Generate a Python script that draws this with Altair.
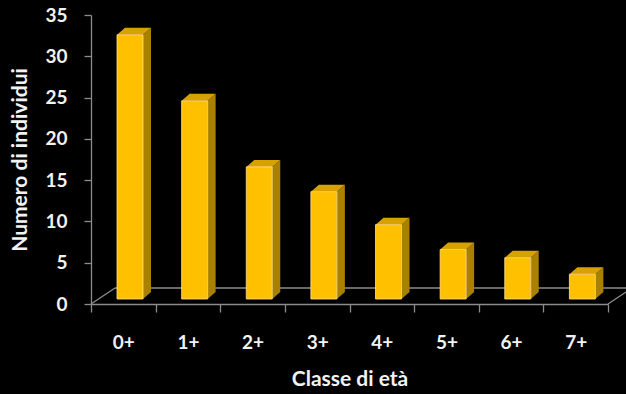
import altair as alt
import pandas as pd

# Age classes and number of individuals in each
classes = ["0+", "1+", "2+", "3+", "4+", "5+", "6+", "7+"]
counts = [32, 24, 16, 13, 9, 6, 5, 3]

# Plot geometry (pixels) and 3-D styling
PLOT_W, PLOT_H = 517, 289
Y_MAX = 35
PX_X = len(classes) / PLOT_W          # data units per pixel, x
PX_Y = Y_MAX / PLOT_H                 # data units per pixel, y

BAR_LEFT = 26 * PX_X                  # front face offset inside its band
BAR_W = 26 * PX_X                     # front face width
BAR_BASE = 5 * PX_Y                   # bars stand a little back on the floor
DEPTH_X, DEPTH_Y = 8 * PX_X, 7 * PX_Y           # bar depth
FLOOR_X, FLOOR_Y = 24 * PX_X, 16 * PX_Y         # floor depth

FRONT = "#FFC000"
SIDE = "#A98000"
TOP = "#D7A200"
EDGE = "#FFE38C"
AXIS_GREY = "#8C8C8C"
TEXT = "#F2F2F2"
FONT = "Lato"

# Front faces
front = pd.DataFrame({
    "cls": classes,
    "x": [i + BAR_LEFT for i in range(len(classes))],
    "x2": [i + BAR_LEFT + BAR_W for i in range(len(classes))],
    "y": [BAR_BASE] * len(classes),
    "y2": [BAR_BASE + v for v in counts],
})

# Side faces: parallelograms drawn as two-point areas
side_rows = []
for i, (c, v) in enumerate(zip(classes, counts)):
    xr = i + BAR_LEFT + BAR_W
    side_rows.append({"cls": c, "x": xr, "lo": BAR_BASE, "hi": BAR_BASE + v})
    side_rows.append({"cls": c, "x": xr + DEPTH_X, "lo": BAR_BASE + DEPTH_Y,
                      "hi": BAR_BASE + v + DEPTH_Y})
side = pd.DataFrame(side_rows)

# Top faces: parallelograms drawn as four-point areas
top_rows = []
for i, (c, v) in enumerate(zip(classes, counts)):
    xl = i + BAR_LEFT
    t = BAR_BASE + v
    top_rows += [
        {"cls": c, "x": xl, "lo": t, "hi": t},
        {"cls": c, "x": xl + DEPTH_X, "lo": t, "hi": t + DEPTH_Y},
        {"cls": c, "x": xl + BAR_W, "lo": t, "hi": t + DEPTH_Y},
        {"cls": c, "x": xl + BAR_W + DEPTH_X, "lo": t + DEPTH_Y, "hi": t + DEPTH_Y},
    ]
top = pd.DataFrame(top_rows)

# Floor outline: back edge and the two receding sides
n = len(classes)
floor = pd.DataFrame({
    "x": [FLOOR_X, 0, n],
    "x2": [n + FLOOR_X, FLOOR_X, n + FLOOR_X],
    "y": [FLOOR_Y, 0, 0],
    "y2": [FLOOR_Y, FLOOR_Y, FLOOR_Y],
})

xq = alt.Scale(domain=[0, n], nice=False, zero=False)
yq = alt.Scale(domain=[0, Y_MAX], nice=False)

# Band layer that carries the category axis
axis_layer = alt.Chart(pd.DataFrame({"cls": classes})).mark_bar(opacity=0).encode(
    x=alt.X("cls:N", sort=classes,
            scale=alt.Scale(paddingInner=0, paddingOuter=0),
            axis=alt.Axis(
                title="Classe di età", tickBand="extent", tickSize=8,
                tickColor=AXIS_GREY, tickWidth=1.3,
                domainColor=AXIS_GREY, domainWidth=1.3,
                labelAngle=0, labelColor=TEXT, labelFont=FONT,
                labelFontSize=19, labelFontWeight="bold", labelPadding=21,
                titleColor=TEXT, titleFont=FONT, titleFontSize=21,
                titleFontWeight="bold", titlePadding=16,
            )),
)

floor_layer = alt.Chart(floor).mark_rule(color=AXIS_GREY, strokeWidth=1.3).encode(
    x=alt.X("x:Q", scale=xq, axis=None),
    x2="x2:Q",
    y=alt.Y("y:Q", scale=yq),
    y2="y2:Q",
)

side_layer = alt.Chart(side).mark_area(color=SIDE, orient="vertical",
                                       interpolate="linear").encode(
    x=alt.X("x:Q", scale=xq, axis=None),
    y=alt.Y("lo:Q", scale=yq, stack=None),
    y2="hi:Q",
    detail="cls:N",
)

top_layer = alt.Chart(top).mark_area(color=TOP, orient="vertical",
                                     interpolate="linear").encode(
    x=alt.X("x:Q", scale=xq, axis=None),
    y=alt.Y("lo:Q", scale=yq, stack=None),
    y2="hi:Q",
    detail="cls:N",
)

front_layer = alt.Chart(front).mark_rect(color=FRONT, stroke=EDGE,
                                         strokeWidth=0.8).encode(
    x=alt.X("x:Q", scale=xq, axis=None),
    x2="x2:Q",
    y=alt.Y("y:Q", scale=yq,
            axis=alt.Axis(
                title="Numero di individui", values=list(range(0, 36, 5)),
                grid=False, tickSize=7, tickColor=AXIS_GREY, tickWidth=1.3,
                domainColor=AXIS_GREY, domainWidth=1.3,
                labelColor=TEXT, labelFont=FONT, labelFontSize=19,
                labelFontWeight="bold", labelPadding=17,
                titleColor=TEXT, titleFont=FONT, titleFontSize=21,
                titleFontWeight="bold", titlePadding=14,
            )),
    y2="y2:Q",
)

bars = alt.layer(floor_layer, side_layer, top_layer, front_layer)

chart = alt.layer(axis_layer, bars).resolve_scale(x="independent").properties(
    width=PLOT_W,
    height=PLOT_H,
    background="#000000",
    padding={"left": 91, "top": 15, "right": 18, "bottom": 90},
    autosize=alt.AutoSizeParams(type="none"),
).configure_view(stroke=None)

chart.save("out.html", embed_options={"renderer": "svg", "actions": False})
